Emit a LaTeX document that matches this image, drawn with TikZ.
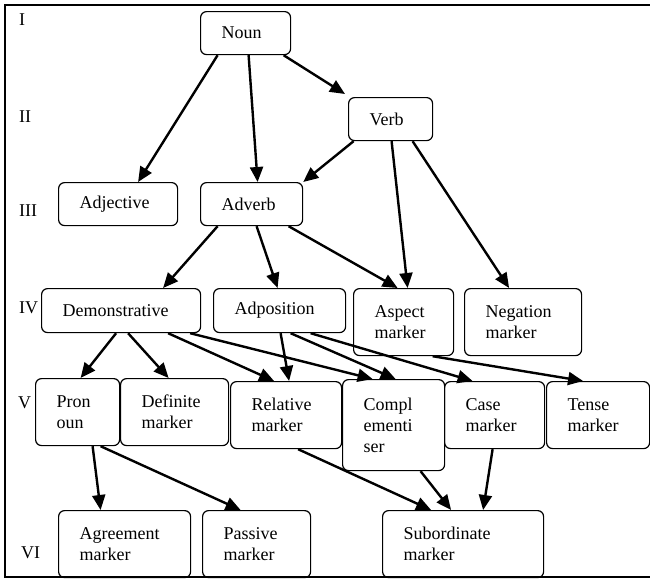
\documentclass[tikz,border=0pt]{standalone}
\usepackage{fontspec}
\setmainfont{Liberation Serif}
\usetikzlibrary{arrows.meta}

\begin{document}
\begin{tikzpicture}[x=1pt,y=-1pt,
  wbox/.style={draw, line width=1.2pt, rounded corners=6pt, anchor=north west,
    inner xsep=21pt, inner ysep=0pt, align=left, font=\fontsize{18}{21}\selectfont},
  lvl/.style={anchor=base west, inner sep=0pt, font=\fontsize{18}{21}\selectfont},
  arr/.style={line width=2.4pt, -{Triangle[length=15pt,width=13pt]}}]
        \useasboundingbox (0,0) rectangle (650,581);
        \draw[line width=2.4pt] (655,5) -- (5,5) -- (5,577) -- (655,577);

        % levels
        \node[lvl] (l1) at (19,25) {I};
        \node[lvl] (l2) at (19,122) {II};
        \node[lvl] (l3) at (19,216) {III};
        \node[lvl] (l4) at (19,313) {IV};
        \node[lvl] (l5) at (18,408) {V};
        \node[lvl] (l6) at (21,558) {VI};

        \node[wbox, text width=48pt, minimum height=43pt] (noun) at (200,11) {Noun};
        \node[wbox, text width=42pt, minimum height=43pt] (verb) at (348,97) {Verb};
        \node[wbox, text width=77pt, minimum height=43pt] (adj) at (58,182) {Adjective};
        \node[wbox, text width=60pt, minimum height=43pt] (adv) at (200,182) {Adverb};
        \node[wbox, text width=117pt, minimum height=44pt] (dem) at (41,288) {Demonstrative};
        \node[wbox, text width=90pt, minimum height=44pt] (adp) at (213,288) {Adposition};
        \node[wbox, text width=58pt, minimum height=67pt] (asp) at (353,288) {Aspect\\marker};
        \node[wbox, text width=75pt, minimum height=67pt] (neg) at (464,288) {Negation\\marker};
        \node[wbox, text width=42pt, minimum height=67pt] (pron) at (35,378) {Pron\\oun};
        \node[wbox, text width=66pt, minimum height=67pt] (def) at (120,378) {Definite\\marker};
        \node[wbox, text width=69pt, minimum height=67pt] (rel) at (230,381) {Relative\\marker};
        \node[wbox, text width=60pt, minimum height=91pt] (comp) at (342,379) {Compl\\ementi\\ser};
        \node[wbox, text width=58pt, minimum height=67pt] (casem) at (444,381) {Case\\marker};
        \node[wbox, text width=61pt, minimum height=67pt] (tense) at (546,381) {Tense\\marker};
        \node[wbox, text width=90pt, minimum height=67pt] (agr) at (58,510) {Agreement\\marker};
        \node[wbox, text width=66pt, minimum height=67pt] (pass) at (202,510) {Passive\\marker};
        \node[wbox, text width=119pt, minimum height=67pt] (sub) at (382,510) {Subordinate\\marker};

        \draw[arr] ([xshift=-28pt]noun.south) -- ([xshift=20pt]adj.north);
        \draw[arr] ([xshift=3pt]noun.south) -- ([xshift=6pt]adv.north);
        \draw[arr] ([xshift=38pt]noun.south) -- ([xshift=-3pt,yshift=3pt]verb.north west);
        \draw[arr] ([xshift=-37pt]verb.south) -- (adv.north east);
        \draw[arr] ([xshift=1pt]verb.south) -- ([xshift=4pt]asp.north);
        \draw[arr] ([xshift=22pt]verb.south) -- ([xshift=-14pt]neg.north);
        \draw[arr] ([xshift=-34pt]adv.south) -- ([xshift=42pt]dem.north);
        \draw[arr] ([xshift=5pt]adv.south) -- ([xshift=-2pt]adp.north);
        \draw[arr] ([xshift=37pt]adv.south) -- ([xshift=-6pt]asp.north);
        \draw[arr] ([xshift=-5pt]dem.south) -- ([xshift=3pt]pron.north);
        \draw[arr] ([xshift=7pt]dem.south) -- ([xshift=-6pt]def.north);
        \draw[arr] ([xshift=47pt]dem.south) -- ([xshift=-12pt]rel.north);
        \draw[arr] ([xshift=69pt]dem.south) -- ([xshift=-21pt]comp.north);
        \draw[arr] ([xshift=1pt]adp.south) -- ([xshift=3pt]rel.north);
        \draw[arr] ([xshift=11pt]adp.south) -- ([xshift=2pt]comp.north);
        \draw[arr] ([xshift=31pt]adp.south) -- ([xshift=-22pt]casem.north);
        \draw[arr] ([xshift=29pt]asp.south) -- ([xshift=-15pt]tense.north);
        \draw[arr] ([xshift=15pt]pron.south) -- ([xshift=-24pt]agr.north);
        \draw[arr] ([xshift=23pt]pron.south) -- ([xshift=-16pt]pass.north);
        \draw[arr] ([xshift=12pt]rel.south) -- ([xshift=-32pt]sub.north);
        \draw[arr] ([xshift=27pt]comp.south) -- ([xshift=-12pt]sub.north);
        \draw[arr] ([xshift=-2pt]casem.south) -- ([xshift=20pt]sub.north);
    \end{tikzpicture}
\end{document}
